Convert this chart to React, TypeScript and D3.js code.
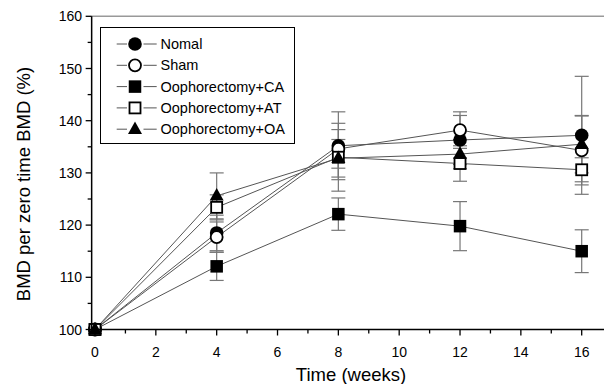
import React from "react";
import * as d3 from "d3";

// Weeks after surgery
const weeks = [0, 4, 8, 12, 16];

// Mean BMD relative to baseline (%) for each group
const nomalMean = [100, 118.5, 135.2, 136.3, 137.2];
const shamMean = [100, 117.7, 134.6, 138.2, 134.3];
const caMean = [100, 112.1, 122.1, 119.8, 115.0];
const atMean = [100, 123.4, 133.0, 131.8, 130.6];
const oaMean = [100, 125.6, 132.8, 133.6, 135.5];

// Standard deviations
const nomalSd = [0, 3.4, 6.5, 4.7, 11.3];
const shamSd = [0, 2.9, 3.7, 3.5, 6.6];
const caSd = [0, 2.7, 3.1, 4.7, 4.1];
const atSd = [0, 2.4, 6.5, 3.4, 2.3];
const oaSd = [0, 4.4, 3.6, 2.8, 5.5];

const groupNames = ["Nomal", "Sham", "Oophorectomy+CA", "Oophorectomy+AT", "Oophorectomy+OA"];
const groupSymbols = ["circleFilled", "circleOpen", "squareFilled", "squareOpen", "triangleFilled"];

const xTicks = [0, 2, 4, 6, 8, 10, 12, 14, 16];
const xMinorTicks = d3.range(0, 17, 1);
const yTicks = [100, 110, 120, 130, 140, 150, 160];
const yMinorTicks = d3.range(100, 161, 5);

const W = 604;
const H = 384;
const LINE = "#555";
const BAR = "#777";

function Marker({ kind, cx, cy }: { kind: string; cx: number; cy: number }) {
  const filled = kind.endsWith("Filled");
  const fill = filled ? "#000" : "#fff";
  const sw = filled ? 0 : 1.8;
  if (kind.startsWith("circle")) {
    const r = filled ? 6.8 : 6;
    return <circle cx={cx} cy={cy} r={r} fill={fill} stroke="#000" strokeWidth={sw} />;
  }
  if (kind.startsWith("square")) {
    const s = filled ? 12.5 : 11;
    return <rect x={cx - s / 2} y={cy - s / 2} width={s} height={s} fill={fill} stroke="#000" strokeWidth={sw} />;
  }
  const h = 12.5;
  const w = 14;
  const p = `M${cx},${cy - h * 0.62} L${cx + w / 2},${cy + h * 0.38} L${cx - w / 2},${cy + h * 0.38} Z`;
  return <path d={p} fill={fill} stroke="#000" strokeWidth={sw} />;
}

export default function App() {
  const x = d3.scaleLinear().domain([0, 16]).range([95, 581.7]);
  const y = d3.scaleLinear().domain([100, 160]).range([329.5, 16.3]);
  const x0 = x(-0.11);
  const x1 = W + 5;
  const yb = y(100);
  const yt = y(160);

  const means = [nomalMean, shamMean, caMean, atMean, oaMean];
  const sds = [nomalSd, shamSd, caSd, atSd, oaSd];

  const line = d3
    .line<number>()
    .x((_, i) => x(weeks[i]))
    .y((d) => y(d));

  const capW = 7;
  const font = "Liberation Sans, Arial, sans-serif";

  return (
    <svg
      width={W}
      height={H}
      style={{ position: "absolute", left: 0, top: 0, background: "#fff" }}
      fontFamily={font}
    >
      {/* frame top edge */}
      <line x1={x0} x2={x1} y1={yt} y2={yt} stroke="#999" strokeWidth={1.5} />

      {/* connecting lines */}
      {means.map((m, gi) => (
        <path key={"l" + gi} d={line(m) || ""} fill="none" stroke={LINE} strokeWidth={1} />
      ))}

      {/* error bars */}
      {means.map((m, gi) =>
        m.map((v, i) => {
          const sd = sds[gi][i];
          if (!sd) return null;
          const cx = x(weeks[i]);
          return (
            <g key={`e${gi}-${i}`} stroke={BAR} strokeWidth={1.2}>
              <line x1={cx} x2={cx} y1={y(v + sd)} y2={y(v - sd)} />
              <line x1={cx - capW} x2={cx + capW} y1={y(v + sd)} y2={y(v + sd)} />
              <line x1={cx - capW} x2={cx + capW} y1={y(v - sd)} y2={y(v - sd)} />
            </g>
          );
        })
      )}

      {/* markers */}
      {means.map((m, gi) =>
        m.map((v, i) => <Marker key={`m${gi}-${i}`} kind={groupSymbols[gi]} cx={x(weeks[i])} cy={y(v)} />)
      )}

      {/* axes */}
      <line x1={x0} x2={x1} y1={yb} y2={yb} stroke="#000" strokeWidth={1.5} />
      <line x1={x0} x2={x0} y1={yt} y2={yb} stroke="#000" strokeWidth={1.5} />
      {xMinorTicks.map((t) => (
        <line key={"xm" + t} x1={x(t)} x2={x(t)} y1={yb} y2={yb + (t % 2 === 0 ? 6 : 4)} stroke="#000" strokeWidth={1.3} />
      ))}
      {xTicks.map((t) => (
        <text key={"xt" + t} x={x(t)} y={357} textAnchor="middle" fontSize={14} fill="#000">
          {t}
        </text>
      ))}
      {yMinorTicks.map((t) => (
        <line key={"ym" + t} x1={x0} x2={x0 - (t % 10 === 0 ? 6 : 4)} y1={y(t)} y2={y(t)} stroke="#000" strokeWidth={1.3} />
      ))}
      {yTicks.map((t) => (
        <text key={"yt" + t} x={82} y={y(t) + 5} textAnchor="end" fontSize={14} fill="#000">
          {t}
        </text>
      ))}

      {/* axis titles */}
      <text x={351} y={381} textAnchor="middle" fontSize={18.5} fill="#000">
        Time (weeks)
      </text>
      <text
        transform={`translate(30,184) rotate(-90)`}
        textAnchor="middle"
        fontSize={18.5}
        fill="#000"
      >
        BMD per zero time BMD (%)
      </text>

      {/* legend */}
      <rect x={100.5} y={27.5} width={194} height={116} fill="#fff" stroke="#000" strokeWidth={1} />
      {groupNames.map((name, gi) => {
        const ly = 44 + gi * 21.3;
        return (
          <g key={"lg" + gi}>
            <line x1={116.7} x2={127} y1={ly} y2={ly} stroke={LINE} strokeWidth={1} />
            <line x1={143.5} x2={156.7} y1={ly} y2={ly} stroke={LINE} strokeWidth={1} />
            <Marker kind={groupSymbols[gi]} cx={135} cy={ly} />
            <text x={160.5} y={ly + 5} fontSize={14.5} fill="#000">
              {name}
            </text>
          </g>
        );
      })}
    </svg>
  );
}
